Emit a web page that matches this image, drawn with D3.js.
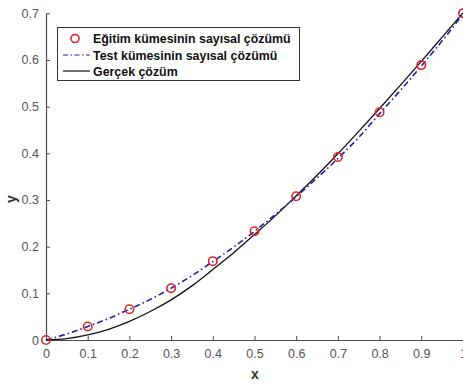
<!DOCTYPE html>
<html>
<head>
<meta charset="utf-8">
<script src="https://cdn.jsdelivr.net/npm/d3@7"></script>
<style>
  body { margin: 0; background: #fff; }
  svg { display: block; font-family: "Liberation Sans", Arial, sans-serif; }
</style>
</head>
<body>
<script>
// values
var trainX = [0, 0.1, 0.2, 0.3, 0.4, 0.5, 0.6, 0.7, 0.8, 0.9, 1];
var trainY = [0, 0.029, 0.066, 0.111, 0.169, 0.233, 0.308, 0.392, 0.488, 0.589, 0.700];

var testX = [0, 0.05, 0.1, 0.15, 0.2, 0.25, 0.3, 0.35, 0.4, 0.45, 0.5, 0.55, 0.6, 0.65, 0.7, 0.75, 0.8, 0.85, 0.9, 0.95, 1];
var testY = [0, 0.013, 0.029, 0.046, 0.066, 0.087, 0.111, 0.138, 0.168, 0.199, 0.233, 0.269, 0.307, 0.347, 0.389, 0.434, 0.485, 0.535, 0.587, 0.641, 0.698];

var exactX = [0, 0.05, 0.1, 0.15, 0.2, 0.25, 0.3, 0.35, 0.4, 0.45, 0.5, 0.55, 0.6, 0.65, 0.7, 0.75, 0.8, 0.85, 0.9, 0.95, 1];
var exactY = [0, 0.003, 0.011, 0.023, 0.040, 0.061, 0.086, 0.116, 0.151, 0.187, 0.226, 0.266, 0.309, 0.353, 0.399, 0.447, 0.496, 0.546, 0.597, 0.649, 0.701];

var xTicks = [0, 0.1, 0.2, 0.3, 0.4, 0.5, 0.6, 0.7, 0.8, 0.9, 1];
var yTicks = [0, 0.1, 0.2, 0.3, 0.4, 0.5, 0.6, 0.7];
var legendLabels = ["Eğitim kümesinin sayısal çözümü", "Test kümesinin sayısal çözümü", "Gerçek çözüm"];

var W = 463, H = 385;
var axisCol = "#4d4d4d";

var svg = d3.select("body").append("svg")
    .attr("width", W)
    .attr("height", H);

var x = d3.scaleLinear().domain([0, 1]).range([46, 463]);
var y = d3.scaleLinear().domain([0, 0.7]).range([340, 13.3]);

// axes (ticks inside, like matlab)
var xAxis = svg.append("g")
    .attr("transform", "translate(0," + y(0) + ")")
    .call(d3.axisBottom(x).tickValues(xTicks).tickSizeInner(-4).tickSizeOuter(0).tickPadding(9)
      .tickFormat(function(d){ return d == 0 || d == 1 ? d3.format("d")(d) : d3.format(".1f")(d); }));
var yAxis = svg.append("g")
    .attr("transform", "translate(" + x(0) + ",0)")
    .call(d3.axisLeft(y).tickValues(yTicks).tickSizeInner(-4).tickSizeOuter(0).tickPadding(7)
      .tickFormat(function(d){ return d == 0 ? "0" : d3.format(".1f")(d); }));

[xAxis, yAxis].forEach(function(a){
  a.select(".domain").attr("stroke", axisCol).attr("stroke-width", 1.2);
  a.selectAll(".tick line").attr("stroke", axisCol);
  a.selectAll(".tick text").attr("fill", "#555").attr("font-size", 12.5)
    .attr("font-family", "Liberation Sans, Arial, sans-serif");
});

svg.append("text")
    .attr("x", 255).attr("y", 379)
    .attr("text-anchor", "middle")
    .attr("font-size", 14).attr("font-weight", "bold").attr("fill", "#333")
    .text("x");
svg.append("text")
    .attr("transform", "translate(16,199) rotate(-90)")
    .attr("text-anchor", "middle")
    .attr("font-size", 14).attr("font-weight", "bold").attr("fill", "#333")
    .text("y");

// curves
var exact = exactX.map(function(d, i){ return [d, exactY[i]]; });
var test = testX.map(function(d, i){ return [d, testY[i]]; });
var train = trainX.map(function(d, i){ return [d, trainY[i]]; });

var line = d3.line()
    .x(function(d){ return x(d[0]); })
    .y(function(d){ return y(d[1]); })
    .curve(d3.curveMonotoneX);

svg.append("path").datum(exact)
    .attr("d", line)
    .attr("fill", "none").attr("stroke", "#111").attr("stroke-width", 1.3);

svg.append("path").datum(test)
    .attr("d", line)
    .attr("fill", "none").attr("stroke", "#1f1fa8").attr("stroke-width", 1.6)
    .attr("stroke-dasharray", "6,3,1.5,3");

svg.selectAll("circle.train").data(train).enter().append("circle")
    .attr("class", "train")
    .attr("cx", function(d){ return x(d[0]); })
    .attr("cy", function(d){ return y(d[1]); })
    .attr("r", 4.2)
    .attr("fill", "none").attr("stroke", "#d9262b").attr("stroke-width", 1.6);

// legend
var lg = svg.append("g");
lg.append("rect")
    .attr("x", 57.5).attr("y", 27.5).attr("width", 242).attr("height", 53)
    .attr("fill", "#fff").attr("stroke", "#333").attr("stroke-width", 1);

var rowY = [38.5, 55, 71];
lg.append("circle").attr("cx", 75).attr("cy", rowY[0]).attr("r", 4)
    .attr("fill", "none").attr("stroke", "#d9262b").attr("stroke-width", 1.6);
lg.append("line").attr("x1", 63).attr("x2", 90).attr("y1", rowY[1]).attr("y2", rowY[1])
    .attr("stroke", "#1f1fa8").attr("stroke-width", 1.2).attr("stroke-dasharray", "5,2.5,1.5,2.5");
lg.append("line").attr("x1", 63).attr("x2", 90).attr("y1", rowY[2]).attr("y2", rowY[2])
    .attr("stroke", "#111").attr("stroke-width", 1.2);

lg.selectAll("text").data(legendLabels).enter().append("text")
    .attr("x", 93)
    .attr("y", function(d, i){ return rowY[i] + 4.5; })
    .attr("font-size", 12.4).attr("font-weight", "bold").attr("fill", "#111")
    .text(function(d){ return d; });
</script>
</body>
</html>
